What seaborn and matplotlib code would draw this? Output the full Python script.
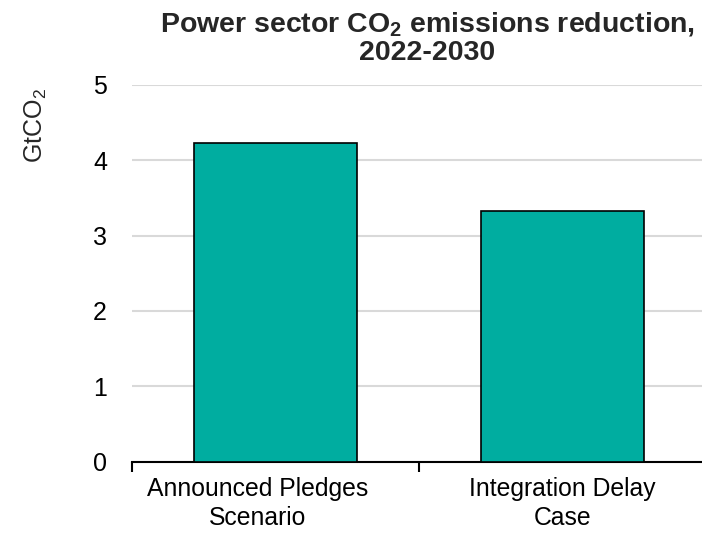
import matplotlib
matplotlib.use("Agg")
import matplotlib.pyplot as plt
import matplotlib.transforms as mtransforms
import seaborn as sns
import pandas as pd

categories = ["Announced Pledges\nScenario", "Integration Delay\nCase"]
values = [4.23, 3.33]
yticks = [0, 1, 2, 3, 4, 5]

sns.set_theme(style="white")
plt.rcParams['font.family'] = ['Liberation Sans', 'DejaVu Sans']
plt.rcParams['mathtext.fontset'] = 'custom'
plt.rcParams['mathtext.rm'] = 'Liberation Sans'
plt.rcParams['mathtext.it'] = 'Liberation Sans:italic'
plt.rcParams['mathtext.bf'] = 'Liberation Sans:bold'

fig = plt.figure(figsize=(7.02, 5.39), dpi=100)
ax = fig.add_axes([132/702, (539-461.5)/539, 574/702, 376.5/539])

df = pd.DataFrame({"cat": categories, "val": values})
sns.barplot(data=df, x="cat", y="val", color="#00ADA0", width=0.57,
            edgecolor="black", linewidth=1.2, saturation=1, ax=ax, zorder=3)

ax.set_xlim(-0.5, 1.5)
ax.set_ylim(0, 5)
ax.set_yticks(yticks)
ax.set_yticklabels([str(t) for t in yticks], fontsize=18, color="black")
ax.yaxis.grid(True, color="#d9d9d9", linewidth=1.5, zorder=0)
ax.set_axisbelow(True)
ax.tick_params(axis="y", length=0, pad=18)
ax.set_xticks([0, 1])
ax.set_xticklabels(categories, fontsize=17.8, color="black", linespacing=1.3)
ax.set_xticks([-0.5, 0.5, 1.5], minor=True)
ax.tick_params(axis="x", which="major", length=0, pad=11)
ax.tick_params(axis="x", which="minor", length=7, width=1.5, color="black", direction="out", bottom=True)
ax.set_xlabel("")
ax.set_ylabel("")
for s in ["top", "right", "left"]:
    ax.spines[s].set_visible(False)
ax.spines["bottom"].set_color("black")
ax.spines["bottom"].set_linewidth(1.5)

# first category label sits slightly left of its bar in the reference
lbl = ax.get_xticklabels()[0]
lbl.set_transform(lbl.get_transform() + mtransforms.ScaledTranslation(-18/100, 0, fig.dpi_scale_trans))

fig.text(427/702, 1 - 10/539, "Power sector CO$_\\mathbf{2}$ emissions reduction,\n2022-2030",
         ha="center", va="top", fontsize=20.5, fontweight="bold", linespacing=1.1)
fig.text(36/702, 1 - 125/539, "GtCO$_2$", rotation=90, ha="center", va="center", fontsize=18)

fig.savefig("out.png", dpi=100)
